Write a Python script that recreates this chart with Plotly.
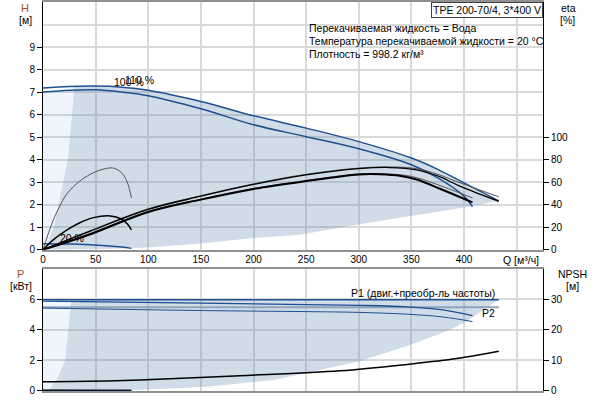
import plotly.graph_objects as go

FONT = 'Liberation Sans, Arial, sans-serif'
BLUE = '#1f4f8f'
GRID = '#d9d9d9'
SHADE = 'rgba(98,138,178,0.3)'
LIGHT = 'rgba(85,155,225,0.1)'
LABEL_BROWN = '#a0501e'

# ---- pump curves H [m] over Q [m3/h] ----
q_max = [0, 25, 50, 75, 100, 150, 200, 250, 300, 350, 375, 400, 433]
h_max = [7.18, 7.25, 7.27, 7.22, 7.08, 6.58, 5.95, 5.4, 4.8, 4.07, 3.57, 2.97, 2.17]
q_100 = [0, 25, 50, 75, 100, 150, 200, 250, 300, 350, 375, 400, 408]
h_100 = [7.0, 7.08, 7.1, 7.0, 6.84, 6.26, 5.55, 5.02, 4.48, 3.77, 3.19, 2.38, 1.91]
q_20 = [0, 29, 60, 75, 84]
h_20 = [0.27, 0.25, 0.18, 0.12, 0.06]

# operating area (H diagram)
env_left_q = [3, 5, 11.4, 17.8, 24, 25.6, 27.3, 30]
env_left_h = [0, 0.32, 1.2, 2.67, 4.14, 5, 6, 7.26]
env_min_q = [433, 400, 350, 300, 244, 200, 150, 100, 50, 3]
env_min_h = [2.18, 1.88, 1.5, 1.13, 0.66, 0.52, 0.28, 0.1, 0.02, 0]

# ---- efficiency [%] ----
q_eta_max = [0, 45, 100, 150, 200, 250, 300, 330, 355, 375, 396, 433]
eta_max_a = [0, 17, 36.4, 48, 58.5, 67, 72.5, 73.5, 72, 67, 59.5, 47]
eta_max_b = [0, 16.5, 35.8, 47.5, 58, 66.5, 72, 73, 71, 65.5, 56.5, 43]
q_eta_100 = [0, 45, 100, 150, 200, 250, 300, 320, 340, 355, 380, 408]
eta_100_a = [0, 14.5, 34, 45, 54.5, 61.5, 67.3, 67.5, 66.5, 64, 56, 46]
eta_100_b = [0, 13.8, 33.5, 44.5, 54, 61, 66.8, 67, 65.5, 62.3, 53, 42]
q_eta_20a = [0, 8, 15, 23, 35, 45, 57, 67, 75, 80, 84]
eta_20_a = [0, 22, 37, 50, 61, 67, 71.5, 72.5, 68, 60, 46]
q_eta_20b = [0, 10, 22.5, 35, 48, 64, 74, 80, 84]
eta_20_b = [0, 9, 17.4, 24, 28.5, 30, 27.5, 23, 17.6]

# ---- power [kW] ----
q_p_max = [0, 433]
p1_max = [5.97, 5.97]
p2_max = [5.47, 5.47]
q_p_100 = [0, 150, 250, 300, 346, 380, 408]
p1_100 = [5.88, 5.75, 5.65, 5.6, 5.5, 5.3, 4.92]
p2_100 = [5.42, 5.26, 5.19, 5.14, 5.02, 4.84, 4.54]
q_p_20 = [0, 84]
p1_20 = [0.06, 0.05]
p2_20 = [0.03, 0.03]

# operating area (P diagram)
pe_left_q = [5, 8, 14.5, 21, 24, 27]
pe_left_p = [0, 0.3, 0.93, 2.0, 4.0, 5.97]
pe_min_q = [433, 403, 387, 346, 298, 244, 219, 156, 100, 50, 5]
pe_min_p = [5.97, 4.6, 4.0, 2.95, 1.9, 1.1, 0.72, 0.28, 0.1, 0.02, 0]

# ---- NPSH [m] ----
q_npsh = [0, 27, 92, 187, 282, 346, 393, 433]
npsh = [3.05, 3.1, 3.6, 5.0, 6.6, 8.7, 10.6, 13.0]

# ---- ticks ----
q_ticks = [0, 50, 100, 150, 200, 250, 300, 350, 400]
h_ticks = [0, 1, 2, 3, 4, 5, 6, 7, 8, 9]
eta_ticks = [0, 20, 40, 60, 80, 100]
p_ticks = [0, 2, 4, 6]
npsh_ticks = [0, 10, 20, 30]

L, R, T, B = 43, 57, 0, 9
W, HH = 600 - L - R, 400 - T - B


def xp(px):
    return (px - L) / W


def yp(py):
    return (400 - B - py) / HH


def line(x, y, color, width, xa='x', ya='y', dash='solid'):
    return go.Scatter(x=x, y=y, mode='lines', xaxis=xa, yaxis=ya,
                      line=dict(color=color, width=width, shape='spline', dash=dash),
                      hoverinfo='skip', showlegend=False)


def area(x, y, color, xa='x', ya='y'):
    return go.Scatter(x=x, y=y, mode='lines', fill='toself', fillcolor=color,
                      xaxis=xa, yaxis=ya, line=dict(width=0),
                      hoverinfo='skip', showlegend=False)


fig = go.Figure()

# H diagram areas
top_q = [q for q in q_max if q > env_left_q[-1]]
top_h = [h for q, h in zip(q_max, h_max) if q > env_left_q[-1]]
fig.add_trace(area([0, 0, q_100[1]] + env_left_q[::-1],
                   [0, h_100[0], h_100[1]] + env_left_h[::-1], LIGHT))
fig.add_trace(area(env_left_q + top_q + env_min_q,
                   env_left_h + top_h + env_min_h, SHADE))

# efficiency curves (right axis)
fig.add_trace(line(q_eta_max, eta_max_a, '#555555', 1, ya='y2'))
fig.add_trace(line(q_eta_max, eta_max_b, '#000000', 1.3, ya='y2'))
fig.add_trace(line(q_eta_100, eta_100_a, '#555555', 1, ya='y2'))
fig.add_trace(line(q_eta_100, eta_100_b, '#000000', 2, ya='y2'))
fig.add_trace(line(q_eta_20a, eta_20_a, '#555555', 1, ya='y2'))
fig.add_trace(line(q_eta_20b, eta_20_b, '#000000', 1.5, ya='y2'))

# H curves
fig.add_trace(line(q_max, h_max, BLUE, 1.5))
fig.add_trace(line(q_100, h_100, BLUE, 1.5))
fig.add_trace(line(q_20, h_20, BLUE, 1.5))

# P diagram areas
fig.add_trace(area([0, 0] + pe_left_q[::-1], [0, 5.95] + pe_left_p[::-1], LIGHT, 'x2', 'y3'))
fig.add_trace(area(pe_left_q + pe_min_q, pe_left_p + pe_min_p, SHADE, 'x2', 'y3'))

# power curves
fig.add_trace(line(q_p_max, p2_max, '#8ea4bb', 2, 'x2', 'y3'))
fig.add_trace(line(q_p_max, p1_max, BLUE, 1.5, 'x2', 'y3'))
fig.add_trace(line(q_p_100, p1_100, BLUE, 1.3, 'x2', 'y3'))
fig.add_trace(line(q_p_100, p2_100, BLUE, 1, 'x2', 'y3'))
fig.add_trace(line(q_p_20, p2_20, BLUE, 1.5, 'x2', 'y3'))
fig.add_trace(line(q_p_20, p1_20, '#000000', 1.2, 'x2', 'y3'))

# NPSH
fig.add_trace(line(q_npsh, npsh, '#000000', 1.5, 'x2', 'y4'))

tickfont = dict(family=FONT, size=10, color='#000000')
xcommon = dict(range=[0, 475], tickmode='array', tickvals=q_ticks,
               showgrid=True, gridcolor=GRID, gridwidth=1.5, zeroline=False,
               minor=dict(dtick=50, tick0=0, showgrid=True, gridcolor=GRID, gridwidth=1.5),
               showline=True, linecolor='#909090', linewidth=1.5, mirror=True,
               ticks='', tickfont=tickfont)
ycommon = dict(zeroline=False, showgrid=True, gridcolor=GRID, gridwidth=1.5,
               showline=True, linecolor='#000000', linewidth=1,
               ticks='outside', ticklen=5, tickcolor='#000000', tickfont=tickfont)
yright = dict(zeroline=False, showgrid=False, side='right',
              showline=True, linecolor='#000000', linewidth=1,
              ticks='outside', ticklen=5, tickcolor='#000000', tickfont=tickfont)

fig.update_layout(
    width=600, height=400,
    margin=dict(l=L, r=R, t=T, b=B),
    paper_bgcolor='white', plot_bgcolor='white',
    showlegend=False, hovermode=False,
    font=dict(family=FONT, size=10, color='#000000'),
    xaxis=dict(xcommon, anchor='y', domain=[0, 1]),
    xaxis2=dict(xcommon, anchor='y3', domain=[0, 1], matches='x', showticklabels=False),
    yaxis=dict(ycommon, domain=[yp(249), 1], range=[0, 11], tickmode='array', tickvals=h_ticks,
               minor=dict(dtick=1, tick0=0, showgrid=True, gridcolor=GRID, gridwidth=1.5)),
    yaxis2=dict(yright, overlaying='y', anchor='x', range=[0, 220],
                tickmode='array', tickvals=eta_ticks),
    yaxis3=dict(ycommon, domain=[0, yp(268)], range=[0, 8], tickmode='array', tickvals=p_ticks,
                minor=dict(dtick=2, tick0=0, showgrid=True, gridcolor=GRID, gridwidth=1.5)),
    yaxis4=dict(yright, overlaying='y3', anchor='x2', range=[0, 40],
                tickmode='array', tickvals=npsh_ticks),
)

txt = dict(family=FONT, size=10.5, color='#000000')
ann = []


def paper_text(text, px, py, xanchor='center', color='#000000', size=10.5):
    ann.append(dict(text=text, x=xp(px), y=yp(py), xref='paper', yref='paper',
                    xanchor=xanchor, yanchor='middle', showarrow=False,
                    font=dict(family=FONT, size=size, color=color)))


paper_text('H', 25, 6, color=LABEL_BROWN, size=11)
paper_text('[м]', 25, 18)
paper_text('eta', 568, 6)
paper_text('[%]', 567, 18)
paper_text('P', 20, 273, color=LABEL_BROWN, size=11)
paper_text('[кВт]', 21, 285)
paper_text('NPSH', 572, 273)
paper_text('[м]', 572, 285)
paper_text('Q [м³/ч]', 521, 259)
paper_text('Перекачиваемая жидкость = Вода', 307, 26, xanchor='left')
paper_text('Температура перекачиваемой жидкости = 20 °C', 307, 39, xanchor='left')
paper_text('Плотность = 998.2 кг/м³', 307, 52, xanchor='left')

ann.append(dict(text='TPE 200-70/4, 3*400 V', x=1, y=1, xref='paper', yref='paper',
                xanchor='right', yanchor='top', showarrow=False, font=txt,
                bordercolor='#404040', borderwidth=1, borderpad=1, bgcolor='white'))

ann.append(dict(text='100 %', x=65.3, y=7.44, xref='x', yref='y', xanchor='left',
                yanchor='middle', showarrow=False, font=txt))
ann.append(dict(text='110 %', x=76.4, y=7.53, xref='x', yref='y', xanchor='left',
                yanchor='middle', showarrow=False, font=txt))
ann.append(dict(text='20 %', x=14.3, y=0.53, xref='x', yref='y', xanchor='left',
                yanchor='middle', showarrow=False, font=txt))
ann.append(dict(text='P1 (двиг.+преобр-ль частоты)', x=431.7, y=6.41, xref='x2', yref='y3',
                xanchor='right', yanchor='middle', showarrow=False, font=txt))
ann.append(dict(text='P2', x=431.7, y=5.09, xref='x2', yref='y3',
                xanchor='right', yanchor='middle', showarrow=False, font=txt))

fig.update_layout(annotations=ann)

# the page body has a default 8px margin; drop it so the chart sits at the window corner
fig.write_html("out.html", config={'displayModeBar': False},
               post_script="document.body.style.margin='0';")
